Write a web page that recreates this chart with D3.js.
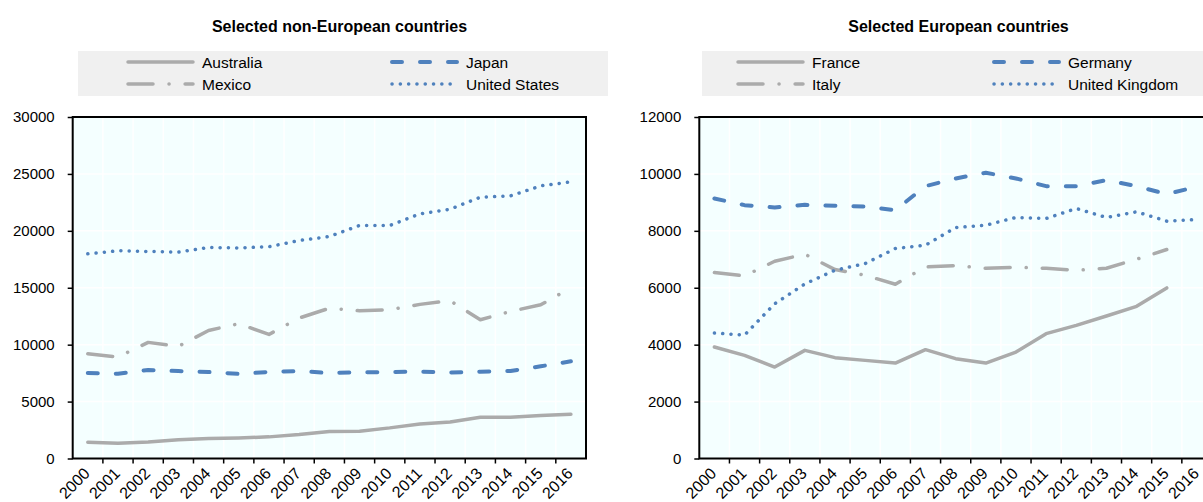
<!DOCTYPE html>
<html>
<head>
<meta charset="utf-8">
<script src="https://cdnjs.cloudflare.com/ajax/libs/d3/7.8.5/d3.min.js"></script>
<style>
  body { margin: 0; background: #fff; }
  svg { display: block; font-family: "Liberation Sans", Arial, sans-serif; }
</style>
</head>
<body>
<svg id="chart" width="1203" height="502"></svg>
<script>
var years = ["2000", "2001", "2002", "2003", "2004", "2005", "2006", "2007", "2008",
             "2009", "2010", "2011", "2012", "2013", "2014", "2015", "2016"];

var yTicksLeft = [0, 5000, 10000, 15000, 20000, 25000, 30000];
var yTicksRight = [0, 2000, 4000, 6000, 8000, 10000, 12000];

// non-European
var australia = [1430, 1350, 1450, 1650, 1750, 1800, 1900, 2100, 2370, 2400, 2690, 3040, 3210, 3630, 3630, 3770, 3890];
var japan = [7510, 7450, 7780, 7680, 7600, 7430, 7600, 7680, 7510, 7570, 7600, 7630, 7550, 7630, 7690, 8100, 8540];
var mexico = [9200, 8920, 10200, 9850, 11250, 11840, 10900, 12340, 13200, 12980, 13070, 13540, 13860, 12190, 12920, 13500, 15000];
var unitedStates = [17980, 18250, 18190, 18130, 18540, 18500, 18600, 19150, 19500, 20470, 20470, 21490, 21900, 22950, 23070, 23950, 24300];

// European
var france = [3917, 3624, 3213, 3800, 3543, 3448, 3354, 3824, 3508, 3354, 3741, 4387, 4680, 5007, 5348, 5993, null];
var germany = [9137, 8902, 8820, 8914, 8879, 8855, 8726, 9571, 9841, 10040, 9841, 9571, 9571, 9782, 9571, 9289, 9550];
var italy = [6533, 6415, 6932, 7178, 6638, 6438, 6122, 6731, 6780, 6685, 6720, 6685, 6615, 6685, 7002, 7343, null];
var unitedKingdom = [4410, 4336, 5437, 6134, 6615, 6850, 7378, 7495, 8117, 8198, 8469, 8434, 8785, 8469, 8668, 8340, 8398];

var grey = "#ababab", blue = "#4f81bd";
var styles = {
  solid:   { color: grey, dash: null, width: 3.5 },
  dashed:  { color: blue, dash: "10 18", width: 4 },
  dashdot: { color: grey, dash: "25 16 0.1 16", width: 3.5 },
  dotted:  { color: blue, dash: "0.1 8.2", width: 3.5 }
};

const svg = d3.select("#chart");

function drawPanel(p) {
  var x = d3.scaleBand().domain(years).range([p.left, p.right]);
  var y = d3.scaleLinear().domain([0, d3.max(p.yTicks)]).range([p.bottom, p.top]);
  var g = svg.append("g");

  g.append("text")
   .attr("x", p.titleX)
   .attr("y", 32)
   .attr("text-anchor", "middle")
   .attr("font-weight", "bold")
   .attr("font-size", 16)
   .text(p.title);

  // legend
  g.append("rect")
   .attr("x", p.legendX)
   .attr("y", 51)
   .attr("width", 530)
   .attr("height", 45)
   .attr("fill", "#f0f0f0");

  p.series.forEach(function(s, i) {
    var st = styles[s.style];
    var lx = p.legendX + p.legendCols[i % 2];
    var ly = 62 + Math.floor(i / 2) * 22;
    g.append("line")
     .attr("x1", lx).attr("x2", lx + 65)
     .attr("y1", ly).attr("y2", ly)
     .attr("stroke", st.color)
     .attr("stroke-width", st.width)
     .attr("stroke-dasharray", st.dash)
     .attr("stroke-linecap", "round");
    g.append("text")
     .attr("x", lx + 74)
     .attr("y", ly)
     .attr("dy", "0.36em")
     .attr("font-size", 15.5)
     .text(s.name);
  });

  // plot background + grid
  g.append("rect")
   .attr("x", p.left).attr("y", p.top)
   .attr("width", p.right - p.left).attr("height", p.bottom - p.top)
   .attr("fill", "#f4ffff");

  g.selectAll(".hgrid")
   .data(p.yTicks)
   .enter()
   .append("line")
   .attr("x1", p.left).attr("x2", p.right)
   .attr("y1", function(d) { return y(d); })
   .attr("y2", function(d) { return y(d); })
   .attr("stroke", "#fff")
   .attr("stroke-width", 1.5);

  g.selectAll(".vgrid")
   .data(years.slice(1))
   .enter()
   .append("line")
   .attr("x1", function(d) { return x(d); })
   .attr("x2", function(d) { return x(d); })
   .attr("y1", p.top).attr("y2", p.bottom)
   .attr("stroke", "#fff")
   .attr("stroke-width", 1.5);

  var line = d3.line()
               .defined(function(d) { return d.v != null; })
               .x(function(d) { return x(d.year) + x.bandwidth() / 2; })
               .y(function(d) { return y(d.v); });

  p.series.forEach(function(s) {
    var st = styles[s.style];
    g.append("path")
     .datum(years.map(function(yr, i) { return { year: yr, v: s.values[i] }; }))
     .attr("d", line)
     .attr("fill", "none")
     .attr("stroke", st.color)
     .attr("stroke-width", st.width)
     .attr("stroke-dasharray", st.dash)
     .attr("stroke-linecap", "round")
     .attr("stroke-linejoin", "round");
  });

  // frame
  g.append("rect")
   .attr("x", p.left).attr("y", p.top)
   .attr("width", p.right - p.left).attr("height", p.bottom - p.top)
   .attr("fill", "none")
   .attr("stroke", "#000")
   .attr("stroke-width", 2);

  const yAxis = d3.axisLeft(y).tickValues(p.yTicks).tickSize(5).tickPadding(13).tickFormat(d3.format("d"));
  var yg = g.append("g")
            .attr("transform", "translate(" + p.left + ",0)")
            .call(yAxis);
  yg.select(".domain").remove();
  yg.attr("font-size", 15).attr("font-family", null);
  yg.selectAll("line").attr("stroke-width", 1.5);
  yg.selectAll("text").attr("fill", "#000");

  const xAxis = d3.axisBottom(x).tickSize(0);
  var xg = g.append("g")
            .attr("transform", "translate(0," + p.bottom + ")")
            .call(xAxis);
  xg.select(".domain").remove();
  xg.attr("font-size", 16).attr("font-family", null);
  xg.selectAll("text")
    .attr("x", 0).attr("y", 0).attr("dy", 0)
    .attr("fill", "#000")
    .attr("text-anchor", "end")
    .attr("transform", "translate(3,16) rotate(-45)");

  // tick marks sit on the band edges
  g.selectAll(".xtick")
   .data(years.slice(1))
   .enter()
   .append("line")
   .attr("x1", function(d) { return x(d); })
   .attr("x2", function(d) { return x(d); })
   .attr("y1", p.bottom).attr("y2", p.bottom + 5)
   .attr("stroke", "#000")
   .attr("stroke-width", 1.5);
}

drawPanel({
  title: "Selected non-European countries",
  titleX: 339.5,
  legendX: 78,
  legendCols: [50, 314],
  left: 72.7, right: 586, top: 117, bottom: 458.5,
  yTicks: yTicksLeft,
  series: [
    { name: "Australia", values: australia, style: "solid" },
    { name: "Japan", values: japan, style: "dashed" },
    { name: "Mexico", values: mexico, style: "dashdot" },
    { name: "United States", values: unitedStates, style: "dotted" }
  ]
});

drawPanel({
  title: "Selected European countries",
  titleX: 958.5,
  legendX: 702,
  legendCols: [36, 292],
  left: 699.3, right: 1212, top: 117, bottom: 458.5,
  yTicks: yTicksRight,
  series: [
    { name: "France", values: france, style: "solid" },
    { name: "Germany", values: germany, style: "dashed" },
    { name: "Italy", values: italy, style: "dashdot" },
    { name: "United Kingdom", values: unitedKingdom, style: "dotted" }
  ]
});
</script>
</body>
</html>
